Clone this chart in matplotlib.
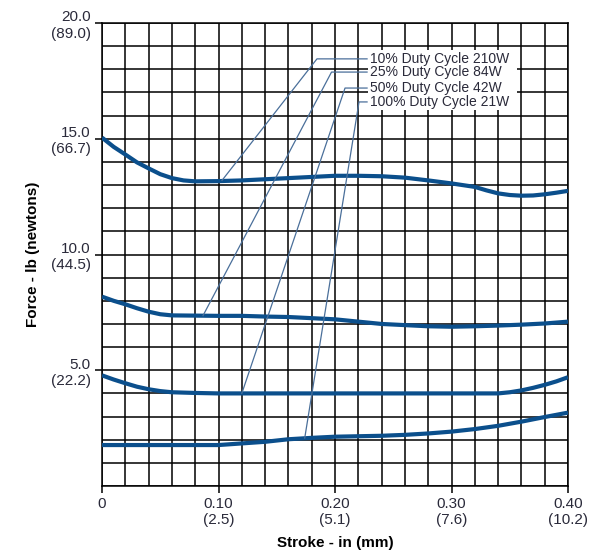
import matplotlib.pyplot as plt
import numpy as np
from matplotlib.patches import Rectangle

plt.rcParams['font.family'] = ['Liberation Sans', 'DejaVu Sans']

# stroke (in) / force (lb), one pair of lists per duty cycle
stroke_10 = [0, 0.01, 0.02, 0.03, 0.04, 0.05, 0.06, 0.07, 0.08, 0.10, 0.12, 0.14,
             0.16, 0.18, 0.20, 0.22, 0.24, 0.26, 0.28, 0.30, 0.32, 0.33, 0.34,
             0.35, 0.36, 0.37, 0.38, 0.39, 0.40]
force_10 = [15.05, 14.65, 14.32, 13.98, 13.72, 13.47, 13.3, 13.2, 13.16, 13.17, 13.2,
            13.25, 13.3, 13.35, 13.4, 13.4, 13.38, 13.32, 13.2, 13.07, 12.92, 12.77,
            12.64, 12.57, 12.54, 12.55, 12.6, 12.67, 12.75]

stroke_25 = [0, 0.01, 0.02, 0.03, 0.04, 0.05, 0.06, 0.08, 0.10, 0.12, 0.14, 0.16,
             0.18, 0.20, 0.22, 0.24, 0.26, 0.28, 0.30, 0.32, 0.34, 0.36, 0.38, 0.40]
force_25 = [8.18, 8.0, 7.85, 7.68, 7.53, 7.42, 7.37, 7.36, 7.35, 7.35, 7.32, 7.3,
            7.25, 7.2, 7.1, 7.0, 6.95, 6.9, 6.88, 6.9, 6.93, 6.97, 7.02, 7.1]

stroke_50 = [0, 0.01, 0.02, 0.03, 0.04, 0.05, 0.06, 0.08, 0.10, 0.12, 0.14, 0.16,
             0.18, 0.20, 0.22, 0.24, 0.26, 0.28, 0.30, 0.32, 0.34, 0.35, 0.36,
             0.37, 0.38, 0.39, 0.40]
force_50 = [4.78, 4.6, 4.44, 4.29, 4.18, 4.1, 4.05, 4.02, 4.0, 4.0, 4.0, 4.0,
            4.0, 4.0, 4.0, 4.0, 4.0, 4.0, 4.0, 4.0, 4.0, 4.05, 4.13,
            4.24, 4.37, 4.52, 4.7]

stroke_100 = [0, 0.02, 0.04, 0.06, 0.08, 0.10, 0.12, 0.14, 0.16, 0.18, 0.20,
              0.22, 0.24, 0.26, 0.28, 0.30, 0.32, 0.34, 0.36, 0.38, 0.40]
force_100 = [1.77, 1.77, 1.77, 1.77, 1.77, 1.77, 1.84, 1.91, 2.02, 2.08, 2.13,
             2.15, 2.17, 2.21, 2.27, 2.35, 2.46, 2.6, 2.78, 2.98, 3.17]

labels = ['10% Duty Cycle 210W', '25% Duty Cycle 84W',
          '50% Duty Cycle 42W', '100% Duty Cycle 21W']

# leader lines: point on curve -> elbow -> label
leader_x0 = [0.103, 0.0867, 0.120, 0.174]
leader_y0 = [13.2, 7.36, 4.0, 2.07]
leader_x1 = [0.1845, 0.197, 0.2086, 0.2206]
label_y = [18.45, 17.88, 17.19, 16.59]
label_x = 0.2275

xticks = [0, 0.10, 0.20, 0.30, 0.40]
xticklabels = ['0', '0.10\n(2.5)', '0.20\n(5.1)', '0.30\n(7.6)', '0.40\n(10.2)']
yticks = [5, 10, 15, 20]
yticklabels = ['5.0\n(22.2)', '10.0\n(44.5)', '15.0\n(66.7)', '20.0\n(89.0)']

curve_color = '#0b4f8c'
leader_color = '#4a6f9a'
text_color = '#2a2a3a'

fig = plt.figure(figsize=(5.92, 5.58), dpi=100)
ax = fig.add_axes([0.1723, 0.129, 0.7872, 0.8298])

ax.set_xlim(0, 0.40)
ax.set_ylim(0, 20)

# grid every 0.02 in / 1 lb
ax.set_xticks(np.arange(0, 0.401, 0.02), minor=True)
ax.set_yticks(np.arange(0, 20.1, 1), minor=True)
ax.grid(True, which='both', color='black', linewidth=1.1)
ax.set_axisbelow(True)
for s in ax.spines.values():
    s.set_color('black')
    s.set_linewidth(1.1)

ax.set_xticks(xticks)
ax.set_xticklabels(xticklabels, color=text_color, fontsize=11, va='top')
ax.set_yticks(yticks)
ax.set_yticklabels(yticklabels, color=text_color, fontsize=11)
ax.tick_params(which='minor', length=0)
ax.tick_params(which='major', direction='out', length=5, width=1.1, pad=3)

# curves
for x, f in [(stroke_10, force_10), (stroke_25, force_25),
             (stroke_50, force_50), (stroke_100, force_100)]:
    ax.plot(x, f, color=curve_color, linewidth=3, solid_capstyle='butt',
            solid_joinstyle='round', zorder=3)

# white label box
ax.add_patch(Rectangle((label_x + 0.0008, label_y[-1] - 0.35), 0.128,
                       label_y[0] - label_y[-1] + 0.72,
                       facecolor='white', edgecolor='none', zorder=4))

for i in range(4):
    ax.plot([leader_x0[i], leader_x1[i], label_x], [leader_y0[i], label_y[i], label_y[i]],
            color=leader_color, linewidth=0.9, zorder=5)
    ax.text(label_x + 0.0025, label_y[i], labels[i], fontsize=10, color=text_color,
            va='center', ha='left', zorder=6)

ax.set_xlabel('Stroke - in (mm)', fontsize=11, fontweight='bold', labelpad=6)
ax.set_ylabel('Force - lb (newtons)', fontsize=11, fontweight='bold', labelpad=8)

fig.savefig('out.png', dpi=100)
